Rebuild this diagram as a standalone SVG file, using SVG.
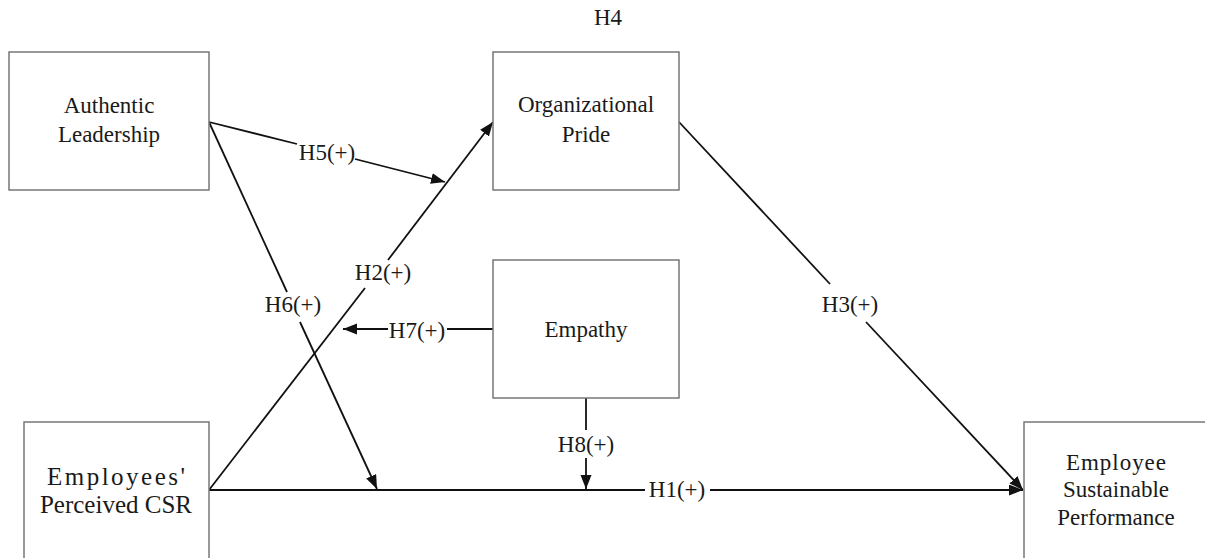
<svg xmlns="http://www.w3.org/2000/svg" width="1205" height="558" viewBox="0 0 1205 558">
<style>
.box{fill:#fff;stroke:#777;stroke-width:1.5}
.t{font-family:"Liberation Serif","Times New Roman",serif;font-size:23px;fill:#1a1a1a;text-anchor:middle}
.big{font-size:25px}
.ln{stroke:#111;stroke-width:1.8;fill:none}
</style>
<defs>
<marker id="ah" markerUnits="userSpaceOnUse" markerWidth="15" markerHeight="12" refX="14" refY="5.5" orient="auto">
<path d="M0,0 L14,5.5 L0,11 z" fill="#111"/>
</marker>
</defs>
<rect width="1205" height="558" fill="#fff"/>
<g id="connectors">
<line class="ln" x1="209" y1="122" x2="297" y2="144"/>
<line class="ln" x1="355" y1="159" x2="445" y2="182" marker-end="url(#ah)"/>
<line class="ln" x1="209" y1="122" x2="287" y2="292"/>
<line class="ln" x1="300" y1="322" x2="377" y2="489" marker-end="url(#ah)"/>
<line class="ln" x1="209" y1="490" x2="365" y2="288"/>
<line class="ln" x1="388" y1="260" x2="493" y2="122" marker-end="url(#ah)"/>
<line class="ln" x1="679" y1="122" x2="830" y2="284"/>
<line class="ln" x1="866" y1="322" x2="1023" y2="490" marker-end="url(#ah)"/>
<line class="ln" x1="209" y1="490" x2="645" y2="490"/>
<line class="ln" x1="710" y1="490" x2="1023" y2="490" marker-end="url(#ah)"/>
<line class="ln" x1="493" y1="329" x2="447" y2="329"/>
<line class="ln" x1="388" y1="329" x2="343" y2="329" marker-end="url(#ah)"/>
<line class="ln" x1="586" y1="398" x2="586" y2="430"/>
<line class="ln" x1="586" y1="458" x2="586" y2="489" marker-end="url(#ah)"/>
<text class="t" x="327" y="160">H5(+)</text>
<text class="t" x="293" y="312">H6(+)</text>
<text class="t" x="383" y="280">H2(+)</text>
<text class="t" x="850" y="312">H3(+)</text>
<text class="t" x="677" y="497">H1(+)</text>
<text class="t" x="417" y="338">H7(+)</text>
<text class="t" x="586" y="452">H8(+)</text>
<text class="t" x="608" y="25">H4</text>
</g>
<g id="authentic-leadership">
<rect class="box" x="9" y="52" width="200" height="138"/>
<text class="t" x="109" y="113">Authentic</text>
<text class="t" x="109" y="142">Leadership</text>
</g>
<g id="organizational-pride">
<rect class="box" x="493" y="52" width="186" height="138"/>
<text class="t" x="586" y="112">Organizational</text>
<text class="t" x="586" y="142">Pride</text>
</g>
<g id="empathy">
<rect class="box" x="493" y="260" width="186" height="138"/>
<text class="t" x="586" y="337">Empathy</text>
</g>
<g id="employees-perceived-csr">
<rect class="box" x="24" y="422" width="185" height="140"/>
<text class="t big" x="116" y="485" textLength="138" lengthAdjust="spacing">Employees'</text>
<text class="t big" x="116" y="513">Perceived CSR</text>
</g>
<g id="employee-sustainable-performance">
<rect class="box" x="1024" y="422" width="184" height="140"/>
<text class="t" x="1116" y="470" textLength="100" lengthAdjust="spacing">Employee</text>
<text class="t" x="1116" y="497">Sustainable</text>
<text class="t" x="1116" y="525">Performance</text>
</g>
</svg>
